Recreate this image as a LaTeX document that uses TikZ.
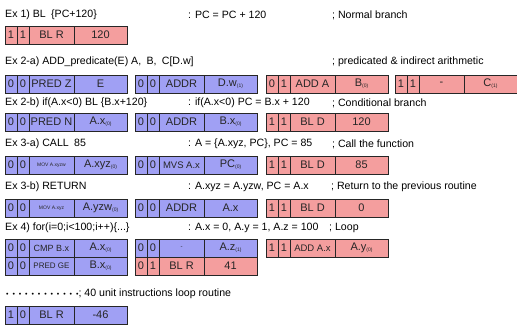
\documentclass[tikz,border=0pt]{standalone}
\usepackage{fontspec}
\setmainfont{Liberation Sans}
\definecolor{rfill}{RGB}{244,158,158}
\definecolor{bfill}{RGB}{160,160,244}
% one instruction word: four cells side by side
\newcommand{\instrbox}[8]{%
  \node[cell,#4,minimum width=12bp,anchor=north west] (#1-a) at (#2,#3) {#5};
  \node[cell,#4,minimum width=12bp,anchor=north west] (#1-b) at (#1-a.north east) {#6};
  \node[cell,#4,minimum width=45bp,anchor=north west] (#1-c) at (#1-b.north east) {#7};
  \node[cell,#4,minimum width=53bp,anchor=north west] (#1-d) at (#1-c.north east) {#8};
}
\newcommand{\subidx}[1]{\raisebox{-1.2bp}{\fontsize{5bp}{6bp}\selectfont(#1)}}
\newcommand{\cellsm}[2]{{\fontsize{#1}{#1}\selectfont #2}}
\begin{document}
\begin{tikzpicture}[x=1bp,y=-1bp,
  cell/.style={draw=black!85,line width=0.7bp,inner sep=0pt,outer sep=0pt,
    minimum height=18bp,font=\fontsize{11bp}{12bp}\selectfont,text=black!85},
  redcell/.style={fill=rfill},
  bluecell/.style={fill=bfill},
  lbl/.style={anchor=west,inner sep=0pt,font=\fontsize{10.6bp}{13bp}\selectfont}]
\useasboundingbox (0,0) rectangle (517,327);

% Ex 1
\node[lbl] (t1a) at (5,15) {Ex 1) BL\enspace\{PC+120\}};
\node[lbl] (t1b) at (188,15) {: PC = PC + 120};
\node[lbl] (t1c) at (332,15) {; Normal branch};
\instrbox{i1}{5}{26}{redcell}{1}{1}{BL R}{120}

% Ex 2-a
\node[lbl] (t2a) at (5,62) {Ex 2-a) ADD\_predicate(E) A,\enspace B,\enspace C[D.w]};
\node[lbl] (t2c) at (332,62) {; predicated \& indirect arithmetic};
\instrbox{i2a}{5}{75}{bluecell}{0}{0}{PRED Z}{E}
\instrbox{i2b}{135}{75}{bluecell}{0}{0}{ADDR}{D.w\subidx{1}}
\instrbox{i2c}{266}{75}{redcell}{0}{1}{ADD A}{B\subidx{0}}
\instrbox{i2d}{395}{75}{redcell}{1}{1}{-}{C\subidx{1}}

% Ex 2-b
\node[lbl] (t3a) at (5,103) {Ex 2-b) if(A.x<0) BL \{B.x+120\}};
\node[lbl] (t3b) at (188,103) {: if(A.x<0) PC = B.x + 120};
\node[lbl] (t3c) at (332,103) {; Conditional branch};
\instrbox{i3a}{5}{113}{bluecell}{0}{0}{PRED N}{A.x\subidx{0}}
\instrbox{i3b}{135}{113}{bluecell}{0}{0}{ADDR}{B.x\subidx{0}}
\instrbox{i3c}{266}{113}{redcell}{1}{1}{BL D}{120}

% Ex 3-a
\node[lbl] (t4a) at (5,144) {Ex 3-a) CALL\enspace 85};
\node[lbl] (t4b) at (188,144) {: A = \{A.xyz, PC\}, PC = 85};
\node[lbl] (t4c) at (332,144) {; Call the function};
\instrbox{i4a}{5}{156}{bluecell}{0}{0}{\cellsm{5bp}{MOV A.xyzw}}{A.xyz\subidx{0}}
\instrbox{i4b}{135}{156}{bluecell}{0}{0}{\cellsm{9.5bp}{MVS A.x}}{PC\subidx{0}}
\instrbox{i4c}{266}{156}{redcell}{1}{1}{BL D}{85}

% Ex 3-b
\node[lbl] (t5a) at (5,187) {Ex 3-b) RETURN};
\node[lbl] (t5b) at (188,187) {: A.xyz = A.yzw, PC = A.x};
\node[lbl] (t5c) at (331,187) {; Return to the previous routine};
\instrbox{i5a}{5}{199}{bluecell}{0}{0}{\cellsm{5bp}{MOV A.xyz}}{A.yzw\subidx{0}}
\instrbox{i5b}{135}{199}{bluecell}{0}{0}{ADDR}{A.x}
\instrbox{i5c}{266}{199}{redcell}{1}{1}{BL D}{0}

% Ex 4
\node[lbl] (t6a) at (5,228) {Ex 4) for(i=0;i<100;i++)\{...\}};
\node[lbl] (t6b) at (188,228) {: A.x = 0, A.y = 1, A.z = 100};
\node[lbl] (t6c) at (329,228) {; Loop};
\instrbox{i6a}{5}{239}{bluecell}{0}{0}{\cellsm{9bp}{CMP B.x}}{A.x\subidx{0}}
\instrbox{i6b}{135}{239}{bluecell}{0}{0}{\cellsm{6bp}{-}}{A.z\subidx{1}}
\instrbox{i6c}{266}{239}{redcell}{1}{1}{\cellsm{9.5bp}{ADD A.x}}{A.y\subidx{0}}
\instrbox{i7a}{5}{257}{bluecell}{0}{0}{\cellsm{8bp}{PRED GE}}{B.x\subidx{0}}
\instrbox{i7b}{135}{257}{redcell}{0}{1}{BL R}{41}

% loop body placeholder
\node[lbl] (t8) at (6,294) {\foreach \k in {1,...,12}{{\fontsize{7bp}{7bp}\selectfont\raisebox{0.3bp}{•}}\hspace{3.9bp}}\hspace{-3.9bp}; 40 unit instructions loop routine};
\instrbox{i8}{5}{306}{bluecell}{1}{0}{BL R}{-46}
\end{tikzpicture}
\end{document}
